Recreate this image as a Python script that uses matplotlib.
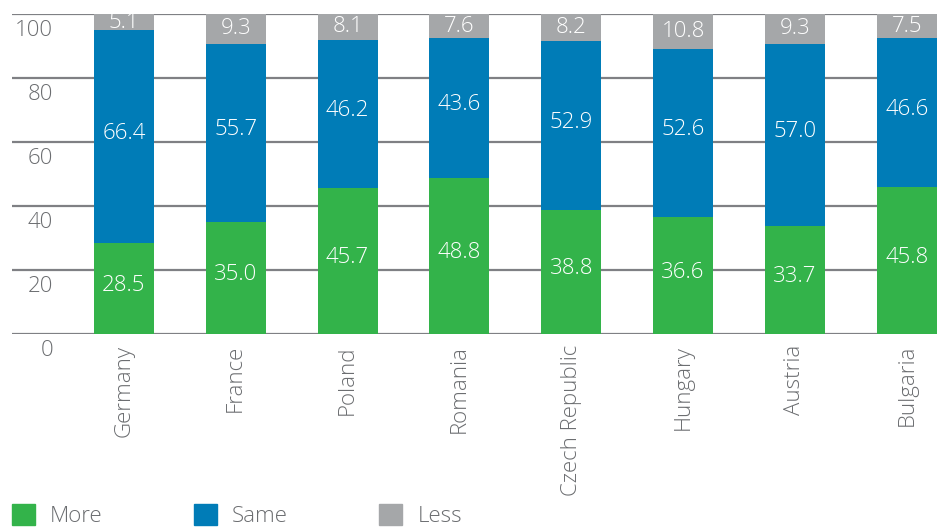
import numpy as np
import matplotlib.pyplot as plt
from matplotlib.patches import Patch

# data
countries = ['Germany', 'France', 'Poland', 'Romania', 'Czech Republic',
             'Hungary', 'Austria', 'Bulgaria']
more = [28.5, 35.0, 45.7, 48.8, 38.8, 36.6, 33.7, 45.8]
same = [66.4, 55.7, 46.2, 43.6, 52.9, 52.6, 57.0, 46.6]
less = [5.1, 9.3, 8.1, 7.6, 8.2, 10.8, 9.3, 7.5]
yticks = [0, 20, 40, 60, 80, 100]
series_names = ['More', 'Same', 'Less']

green = '#33b34a'
blue = '#007cb7'
grey = '#a5a7a9'
text_col = '#6b6d70'
grid_col = '#7f8084'
fs = 16

plt.rcParams['font.family'] = ['Open Sans', 'DejaVu Sans']
plt.rcParams['font.weight'] = 'light'

fig = plt.figure(figsize=(9.41, 5.30), dpi=100)
ax = fig.add_axes([12/941, 1-334/530, 925/941, 320/530])

x = np.arange(len(countries))
w = 0.536
more = np.array(more)
same = np.array(same)
less = np.array(less)

for v in yticks:
    ax.axhline(v, color=grid_col, lw=1.6, zorder=0)
    ax.text(0.0443, v - 5, str(v), transform=ax.get_yaxis_transform(),
            ha='right', va='center', fontsize=fs, color=text_col, clip_on=False)

ax.bar(x, more, w, color=green, zorder=2)
ax.bar(x, same, w, bottom=more, color=blue, zorder=2)
ax.bar(x, less, w, bottom=more + same, color=grey, zorder=2)

# value labels, nudged up a little like the original
dy = 1.0
for i in range(len(x)):
    ax.text(x[i], more[i] / 2 + dy, f'{more[i]:.1f}', ha='center', va='center',
            color='white', fontsize=fs, zorder=3)
    ax.text(x[i], more[i] + same[i] / 2 + dy, f'{same[i]:.1f}', ha='center',
            va='center', color='white', fontsize=fs, zorder=3)
    ax.text(x[i], more[i] + same[i] + less[i] / 2, f'{less[i]:.1f}', ha='center',
            va='center', color='white', fontsize=fs, zorder=3)

ax.set_xlim(-1.0, 7.27)
ax.set_ylim(0, 100)
ax.set_yticks([])
ax.set_xticks(x)
ax.set_xticklabels(countries, rotation=90, fontsize=fs, color=text_col)
ax.tick_params(axis='x', length=0, pad=8)
for s in ax.spines.values():
    s.set_visible(False)

handles = [Patch(color=green), Patch(color=blue), Patch(color=grey)]
leg = fig.legend(handles, series_names, loc='center left',
                 bbox_to_anchor=(12/941, 1-515.5/530), ncol=3, frameon=False,
                 fontsize=fs, handlelength=1.04, handleheight=1.04,
                 handletextpad=0.68, columnspacing=4.1, borderpad=0,
                 borderaxespad=0)
for t in leg.get_texts():
    t.set_color(text_col)

fig.savefig('out.png', dpi=100)
